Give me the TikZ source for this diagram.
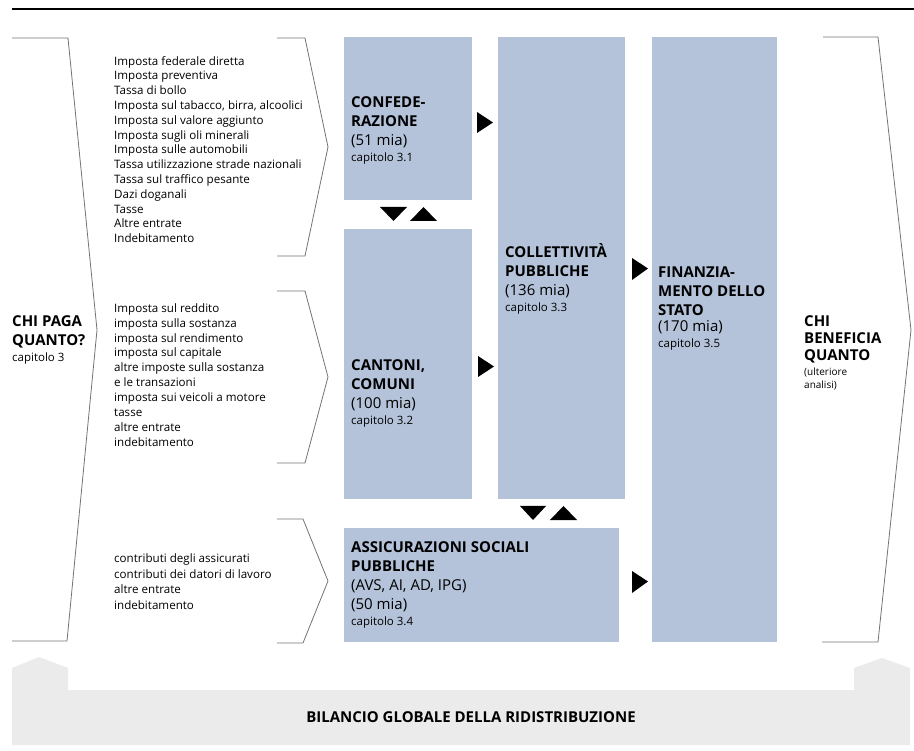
\documentclass[tikz,border=0pt]{standalone}
\usepackage{fontspec}
\setmainfont{Open Sans}
\definecolor{boxblue}{RGB}{180,195,218}
\definecolor{bandgray}{RGB}{235,235,235}
\definecolor{linegray}{RGB}{115,115,115}

\begin{document}
\begin{tikzpicture}[x=1pt,y=-1pt,
    box/.style={fill=boxblue,inner sep=0pt,anchor=north west},
    head/.style={anchor=north west,inner sep=0pt,align=left,font=\fontsize{15}{19}\selectfont},
    list/.style={anchor=west,inner sep=0pt,align=left},
    brace/.style={draw=linegray,line width=0.8pt}]
    \useasboundingbox (0,0) rectangle (914,751);
    \draw[line width=1.5pt] (12,9) -- (914,9);

    \fill[bandgray] (12,668) -- (39,657) -- (68,668) -- (68,690) -- (854,690) -- (854,668) -- (882,658) -- (910,668) -- (910,745) -- (12,745) -- cycle;
    \node (bil) at (471,717) [font=\fontsize{15}{17}\selectfont\bfseries] {BILANCIO GLOBALE DELLA RIDISTRIBUZIONE};

    \draw[brace] (12,38) -- (68,38) -- (97,330) -- (67,641) -- (12,641);
    \draw[brace] (823,37) -- (878,37) -- (911,330) -- (878,642) -- (822,642);
    \draw[brace] (277,38) -- (305,38) -- (328,147) -- (305,256) -- (277,256);
    \draw[brace] (277,291) -- (305,291) -- (328,377) -- (305,463) -- (277,463);
    \draw[brace] (277,519) -- (303,519) -- (328,581) -- (303,643) -- (277,643);

    \node (chi) at (12,315) [head] {\textbf{CHI PAGA}\\\textbf{QUANTO?}\\[-3pt]{\fontsize{11.5}{13}\selectfont capitolo 3}};
    \node (ben) at (804,315) [head] {\textbf{CHI}\\[-2pt]\textbf{BENEFICIA}\\[-2pt]\textbf{QUANTO}\\[-4pt]{\fontsize{10}{11}\selectfont (ulteriore}\\[-6pt]{\fontsize{10}{11}\selectfont analisi)}};

    \node (lst1) at (114,149.5) [list,font=\fontsize{11.6}{14.8}\selectfont] {Imposta federale diretta\\Imposta preventiva\\Tassa di bollo\\Imposta sul tabacco, birra, alcoolici\\Imposta sul valore aggiunto\\Imposta sugli oli minerali\\Imposta sulle automobili\\Tassa utilizzazione strade nazionali\\Tassa sul traffico pesante\\Dazi doganali\\Tasse\\Altre entrate\\Indebitamento};
    \node (lst2) at (114,375) [list,font=\fontsize{11.6}{14.9}\selectfont] {Imposta sul reddito\\imposta sulla sostanza\\imposta sul rendimento\\imposta sul capitale\\altre imposte sulla sostanza\\e le transazioni\\imposta sui veicoli a motore\\tasse\\altre entrate\\indebitamento};
    \node (lst3) at (114,581.5) [list,font=\fontsize{11.6}{15.6}\selectfont] {contributi degli assicurati\\contributi dei datori di lavoro\\altre entrate\\indebitamento};

    \node (conf) at (344,37) [box,minimum width=128pt,minimum height=163pt] {};
    \node (cant) at (344,229) [box,minimum width=128pt,minimum height=270pt] {};
    \node (coll) at (498,37) [box,minimum width=127pt,minimum height=462pt] {};
    \node (assic) at (344,528) [box,minimum width=275pt,minimum height=114pt] {};
    \node (fin) at (652,37) [box,minimum width=125pt,minimum height=605pt] {};

    \node (tconf) at (351,96) [head] {\textbf{CONFEDE-}\\\textbf{RAZIONE}\\(51 mia)\\[-3pt]{\fontsize{11.5}{13}\selectfont capitolo 3.1}};
    \node (tcant) at (351,359) [head] {\textbf{CANTONI,}\\\textbf{COMUNI}\\(100 mia)\\[-3pt]{\fontsize{11.5}{13}\selectfont capitolo 3.2}};
    \node (tcoll) at (505,243) [head] {\textbf{COLLETTIVITÀ}\\\textbf{PUBBLICHE}\\(136 mia)\\[-3pt]{\fontsize{11.5}{13}\selectfont capitolo 3.3}};
    \node (tassic) at (351,541) [head] {\textbf{ASSICURAZIONI SOCIALI}\\\textbf{PUBBLICHE}\\(AVS, AI, AD, IPG)\\(50 mia)\\[-3pt]{\fontsize{11.5}{13}\selectfont capitolo 3.4}};
    \node (tfin) at (658,267) [head] {\textbf{FINANZIA-}\\\textbf{MENTO DELLO}\\\textbf{STATO}\\[-3pt](170 mia)\\[-3pt]{\fontsize{11.5}{13}\selectfont capitolo 3.5}};

    \fill (477,112) -- (493,122.5) -- (477,133) -- cycle;
    \fill (478,356) -- (494,366.5) -- (478,377) -- cycle;
    \fill (632,258) -- (648,268.5) -- (632,280) -- cycle;
    \fill (632,571) -- (648,581.5) -- (632,593) -- cycle;
    \fill (380,207) -- (407,207) -- (393.5,221) -- cycle;
    \fill (410,221) -- (437,221) -- (423.5,207) -- cycle;
    \fill (520,506) -- (546,506) -- (533,520) -- cycle;
    \fill (550,520) -- (577,520) -- (563.5,506) -- cycle;
\end{tikzpicture}
\end{document}
